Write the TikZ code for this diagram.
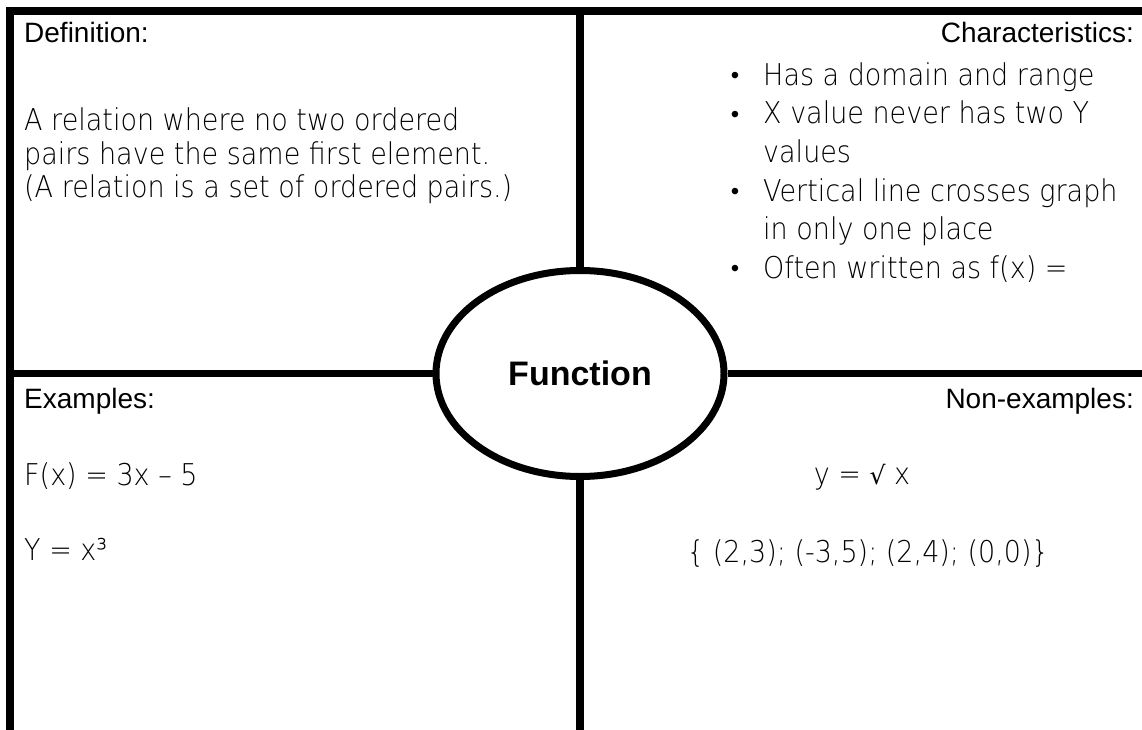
\documentclass[tikz,border=0pt]{standalone}
\usepackage{fontspec}
\setmainfont{Liberation Sans}
\newfontfamily\handfont[FakeStretch=0.9]{DejaVu Sans ExtraLight}
\newfontfamily\symbfont{DejaVu Sans}
\usetikzlibrary{shapes.geometric}
\tikzset{
  frame line/.style={
    line width=7.5pt,
    color=black
  },
  hub/.style={
    ellipse,
    draw=black,
    line width=7pt,
    fill=white,
    minimum width=288pt,
    minimum height=206pt,
    inner sep=0pt,
    font=\bfseries\fontsize{34}{40}\selectfont
  },
  heading/.style={
    inner sep=0pt,
    text height=20pt,
    text depth=6pt,
    font=\fontsize{28}{32}\selectfont
  },
  hand/.style={
    inner sep=0pt,
    anchor=west,
    text height=22pt,
    text depth=7pt,
    font=\handfont\fontsize{30}{34}\selectfont
  },
  bullet dot/.style={
    inner sep=0pt,
    font=\fontsize{24}{28}\selectfont
  }
}

\begin{document}
\begin{tikzpicture}[x=1pt, y=-1pt]
    \useasboundingbox (0,0) rectangle (1142,730);

    % 中间的椭圆
    \node[hub] (hub) at (580,373.5) {Function};

    % 外框和十字线
    \coordinate (top right) at (1146,11);
    \coordinate (corner) at (10,11);
    \coordinate (bottom left) at (10,734);
    \coordinate (top mid) at (580,11);
    \coordinate (bottom mid) at (580,734);
    \coordinate (left mid) at (10,373.5);
    \coordinate (right mid) at (1146,373.5);
    \draw[frame line] (top right) -- (corner) -- (bottom left);
    \draw[frame line] (top mid) -- (hub.north);
    \draw[frame line] (hub.south) -- (bottom mid);
    \draw[frame line] (left mid) -- (hub.west);
    \draw[frame line] (hub.east) -- (right mid);

    % 左上: Definition
    \node[heading, anchor=west] (defhead) at (24,36) {Definition:};
    \node[hand] (def1) at (24,123) {A relation where no two ordered};
    \node[hand] (def2) at (24,157) {pairs have the same first element.};
    \node[hand] (def3) at (24,190) {(A relation is a set of ordered pairs.)};

    % 右上: Characteristics
    \node[heading, anchor=east] (charhead) at (1134,36) {Characteristics:};
    \node[bullet dot] (dot1) at (735,78) {•};
    \node[hand] (char1) at (763,78) {Has a domain and range};
    \node[bullet dot] (dot2) at (735,116.5) {•};
    \node[hand] (char2) at (763,116.5) {X value never has two Y};
    \node[hand] (char3) at (763,155) {values};
    \node[bullet dot] (dot3) at (735,193.5) {•};
    \node[hand] (char4) at (763,193.5) {Vertical line crosses graph};
    \node[hand] (char5) at (763,232) {in only one place};
    \node[bullet dot] (dot4) at (735,270.5) {•};
    \node[hand] (char6) at (763,270.5) {Often written as f(x) =};

    % 左下: Examples
    \node[heading, anchor=west] (exhead) at (24,401) {Examples:};
    \node[hand] (ex1) at (24,478) {F(x) = 3x – 5};
    \node[hand] (ex2) at (24,553) {Y = x³};

    % 右下: Non-examples
    \node[heading, anchor=east] (nonhead) at (1134,401) {Non-examples:};
    \node[hand, anchor=center] (non1) at (862,477) {y = {\symbfont\fontsize{25}{30}\selectfont √} x};
    \node[hand, anchor=center] (non2) at (868,555) {\{ (2,3); (-3,5); (2,4); (0,0)\}};

\end{tikzpicture}
\end{document}
